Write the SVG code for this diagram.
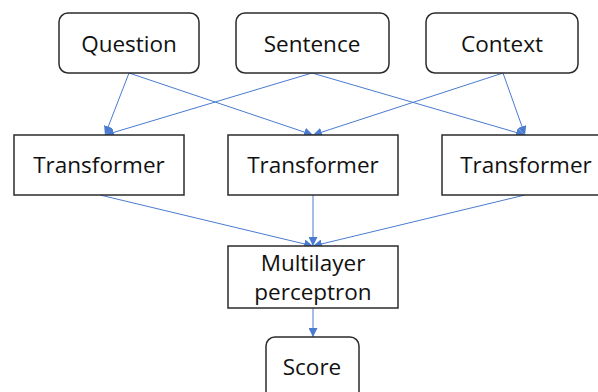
<svg xmlns="http://www.w3.org/2000/svg" width="598" height="392" viewBox="0 0 598 392">
<defs>
<style>
.box{fill:#fff;stroke:#2b2b2b;stroke-width:1.5}
.lbl{font-family:"Open Sans","Liberation Sans",sans-serif;font-size:22.5px;fill:#111;text-anchor:middle}
.edge{stroke:#4a7bd0;stroke-width:1;fill:none;marker-end:url(#ah)}
</style>
<marker id="ah" viewBox="0 0 10 10" refX="10" refY="5" markerWidth="9" markerHeight="9" markerUnits="userSpaceOnUse" orient="auto">
<path d="M0,0 L10,5 L0,10 z" fill="#4a7bd0"/>
</marker>
</defs>
<rect width="598" height="392" fill="#fff"/>
<g id="connectors">
<path class="edge" d="M129,73 L105,135"/>
<path class="edge" d="M129,73 L313,135"/>
<path class="edge" d="M312,73 L105,135"/>
<path class="edge" d="M312,73 L525,135"/>
<path class="edge" d="M503,73 L313,135"/>
<path class="edge" d="M503,73 L525,135"/>
<path class="edge" d="M100,195 L313,246"/>
<path class="edge" d="M313,195 L313,246"/>
<path class="edge" d="M525,195 L313,246"/>
<path class="edge" d="M313,308 L313,337"/>
</g>
<g id="question"><rect class="box" x="59" y="13" width="140" height="60" rx="9"/><text class="lbl" x="129" y="52">Question</text></g>
<g id="sentence"><rect class="box" x="236" y="13" width="153" height="60" rx="9"/><text class="lbl" x="312" y="52">Sentence</text></g>
<g id="context"><rect class="box" x="426" y="13" width="152" height="60" rx="9"/><text class="lbl" x="502" y="52">Context</text></g>
<g id="transformer1"><rect class="box" x="14" y="135" width="170" height="60"/><text class="lbl" x="99" y="173">Transformer</text></g>
<g id="transformer2"><rect class="box" x="228" y="135" width="170" height="60"/><text class="lbl" x="313" y="173">Transformer</text></g>
<g id="transformer3"><rect class="box" x="442" y="135" width="170" height="60"/><text class="lbl" x="526" y="173">Transformer</text></g>
<g id="mlp"><rect class="box" x="228" y="246" width="170" height="62"/><text class="lbl" x="313" y="271">Multilayer</text><text class="lbl" x="313" y="300">perceptron</text></g>
<g id="score"><rect class="box" x="266" y="337" width="93" height="70" rx="9"/><text class="lbl" x="312" y="375">Score</text></g>
</svg>
